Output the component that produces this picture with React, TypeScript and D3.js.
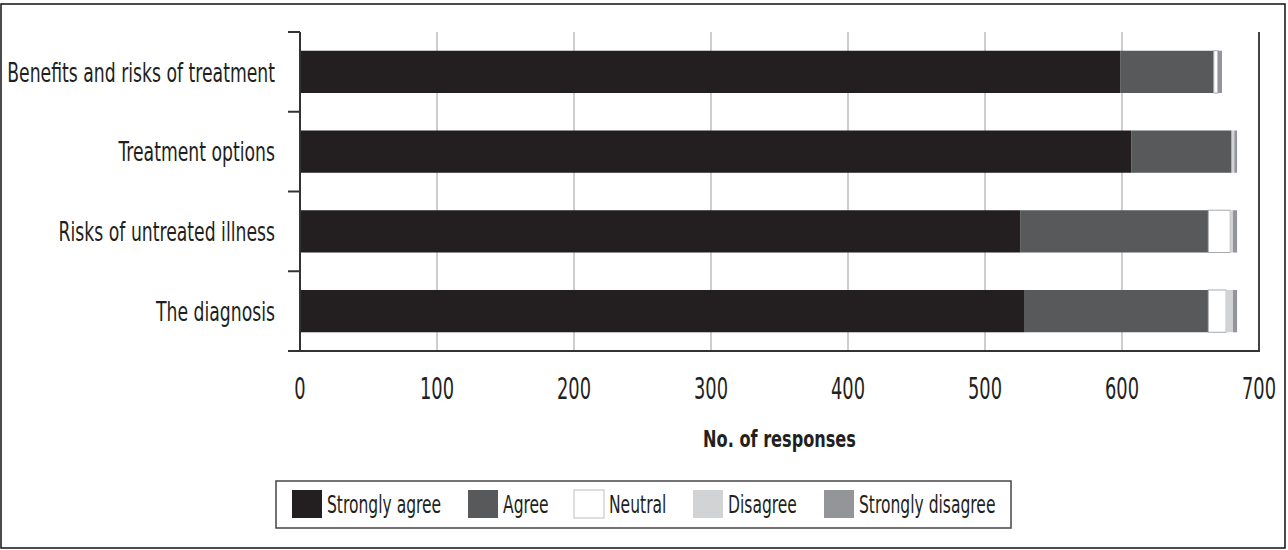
import * as d3 from "d3";

const categories = [
  "Benefits and risks of treatment",
  "Treatment options",
  "Risks of untreated illness",
  "The diagnosis",
];
const seriesNames = ["Strongly agree", "Agree", "Neutral", "Disagree", "Strongly disagree"];
const stronglyAgree = [599, 607, 526, 529];
const agree = [68, 73, 137, 134];
const neutral = [3, 0, 16, 13];
const disagree = [0, 2, 2, 5];
const stronglyDisagree = [3, 2, 3, 3];
const xTicks = [0, 100, 200, 300, 400, 500, 600, 700];

const colors = ["#231f20", "#58595b", "#ffffff", "#d1d3d4", "#939598"];
const font = "'DejaVu Sans Condensed', 'Liberation Sans', sans-serif";

const W = 1288;
const H = 550;
const left = 300;
const right = 1259;
const top = 32;
const bottom = 351;

// condensed text: the original font is much narrower than anything installed
function T(props: { x: number; y: number; sx: number; size: number; anchor?: string; bold?: boolean; dy?: string; children: any }) {
  return (
    <text
      transform={`translate(${props.x},${props.y}) scale(${props.sx},1)`}
      dy={props.dy}
      textAnchor={props.anchor || "start"}
      fontFamily={font}
      fontSize={props.size}
      fontWeight={props.bold ? "bold" : "normal"}
      fill="#231f20"
    >
      {props.children}
    </text>
  );
}

export default function App() {
  const rows = categories.map((c, i) => ({
    cat: c,
    "Strongly agree": stronglyAgree[i],
    Agree: agree[i],
    Neutral: neutral[i],
    Disagree: disagree[i],
    "Strongly disagree": stronglyDisagree[i],
  }));
  const stacked = d3.stack<any>().keys(seriesNames)(rows);

  const x = d3.scaleLinear().domain([0, 700]).range([left, right]);
  const y = d3.scaleBand().domain(categories).range([top, bottom]).paddingInner(0.47).paddingOuter(0.235);
  const band = d3.scaleBand().domain(categories).range([top, bottom]);

  // legend swatch positions
  const legendX = [292, 468, 574, 693, 824];

  return (
    <svg width={W} height={H} style={{ position: "absolute", left: 0, top: 0, background: "#fff" }}>
      <rect x={1} y={4} width={1284} height={544} fill="none" stroke="#111" strokeWidth={1.5} />

      {/* grid */}
      {xTicks.slice(1, -1).map((t) => (
        <line key={t} x1={x(t)} x2={x(t)} y1={top} y2={bottom} stroke="#bcbec0" strokeWidth={1.5} />
      ))}

      {/* bars */}
      {stacked.map((s, si) => (
        <g key={s.key}>
          {s.map((d, i) => {
            const w = x(d[1]) - x(d[0]);
            if (w <= 0) return null;
            return (
              <rect
                key={i}
                x={x(d[0])}
                y={y(categories[i])}
                width={w}
                height={y.bandwidth()}
                fill={colors[si]}
                stroke={si === 2 ? "#a7a9ac" : "none"}
                strokeWidth={1}
              />
            );
          })}
        </g>
      ))}

      <line x1={right} x2={right} y1={top} y2={bottom} stroke="#444" strokeWidth={2} />
      <line x1={left} x2={left} y1={top} y2={bottom} stroke="#333" strokeWidth={2} />
      <line x1={left - 12} x2={right + 1} y1={bottom} y2={bottom} stroke="#333" strokeWidth={2} />
      {categories.map((c) => (
        <line key={c} x1={left - 12} x2={left} y1={band(c)!} y2={band(c)!} stroke="#333" strokeWidth={2} />
      ))}

      {categories.map((c) => (
        <T key={c} x={275} y={y(c)! + y.bandwidth() / 2} dy="0.36em" anchor="end" size={27} sx={0.71}>
          {c}
        </T>
      ))}

      {xTicks.map((t) => (
        <T key={t} x={x(t)} y={399} anchor="middle" size={30} sx={0.66}>
          {t}
        </T>
      ))}
      <T x={(left + right) / 2} y={447} anchor="middle" size={23} sx={0.78} bold>
        No. of responses
      </T>

      <rect x={276} y={481} width={735} height={47} fill="#fff" stroke="#444" strokeWidth={1.5} />
      {seriesNames.map((n, i) => (
        <g key={n}>
          <rect
            x={legendX[i]}
            y={490}
            width={30}
            height={28}
            fill={colors[i]}
            stroke={i === 2 ? "#bcbec0" : "none"}
          />
          <T x={legendX[i] + 35} y={513} size={24} sx={0.72}>
            {n}
          </T>
        </g>
      ))}
    </svg>
  );
}
